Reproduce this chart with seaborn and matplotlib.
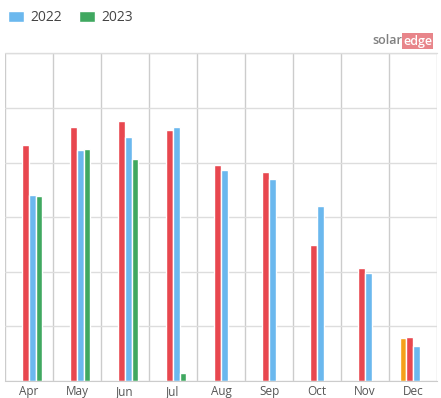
import numpy as np
import pandas as pd
import matplotlib
matplotlib.use("Agg")
import matplotlib.pyplot as plt
from matplotlib.patches import Patch
import seaborn as sns

# Monthly energy (kWh)
months = ["Apr", "May", "Jun", "Jul", "Aug", "Sep", "Oct", "Nov", "Dec"]
years = ["2020", "2021", "2022", "2023"]
kwh_2020 = [0, 0, 0, 0, 0, 0, 0, 0, 158]
kwh_2021 = [864, 930, 952, 920, 792, 766, 498, 414, 162]
kwh_2022 = [682, 846, 894, 930, 772, 740, 642, 396, 128]
kwh_2023 = [678, 850, 814, 30, 0, 0, 0, 0, 0]

colors = {"2020": "#f5a01a", "2021": "#e8474f", "2022": "#6bb8ee", "2023": "#40a860"}

rows = []
for yr, vals in zip(years, [kwh_2020, kwh_2021, kwh_2022, kwh_2023]):
    for m, v in zip(months, vals):
        rows.append({"month": m, "year": yr, "kwh": v})
df = pd.DataFrame(rows)

sns.set_style("white")
plt.rcParams["font.family"] = ["Open Sans", "DejaVu Sans"]

fig = plt.figure(figsize=(4.41, 3.98), dpi=100)
ax = fig.add_axes([5 / 441, 17 / 398, 432 / 441, 327.5 / 398])

sns.barplot(data=df, x="month", y="kwh", hue="year", order=months,
            hue_order=years, palette=colors, width=0.57, gap=0.08,
            saturation=1, legend=False, ax=ax)

ax.set_xlim(-0.5, len(months) - 0.5)
ax.set_ylim(0, 1200)
ax.set_yticks(np.arange(0, 1201, 200))
ax.set_yticklabels([])
ax.tick_params(axis="y", length=0)
ax.grid(axis="y", color="#dddddd", linewidth=1)
ax.axhline(1200, color="#dddddd", linewidth=1, clip_on=False, zorder=0)
ax.set_axisbelow(True)

# category separators, running slightly below the baseline
ax.set_xticks(np.arange(-0.5, len(months), 1), minor=True)
ax.tick_params(axis="x", which="minor", length=11, color="#cccccc", width=1)
ax.tick_params(axis="x", which="major", length=0, labelsize=8.5,
               labelcolor="#555555", pad=3)
ax.grid(axis="x", which="minor", color="#cccccc", linewidth=1)
ax.set_xlabel("")
ax.set_ylabel("")

for side in ["top", "left", "right"]:
    ax.spines[side].set_visible(False)
ax.spines["bottom"].set_color("#cccccc")

# legend (only the visible page)
handles = [Patch(facecolor=colors["2022"], label="2022"),
           Patch(facecolor=colors["2023"], label="2023")]
fig.legend(handles=handles, loc="upper left",
           bbox_to_anchor=(8 / 441, 1 - 10 / 398),
           ncol=2, frameon=False, fontsize=10, handlelength=1.15,
           handleheight=0.85, handletextpad=0.45, columnspacing=1.25,
           borderpad=0, borderaxespad=0, labelcolor="#444444")

# logo
fig.text(402 / 441, 1 - 41 / 398, "solar", ha="right", va="center",
         fontsize=9, color="#808080", fontweight="semibold")
fig.text(403 / 441, 1 - 41 / 398, "edge", ha="left", va="center",
         fontsize=9, color="#ffffff", fontweight="semibold",
         bbox=dict(boxstyle="square,pad=0.1", facecolor="#e8858a",
                   edgecolor="none"))

fig.savefig("out.png", dpi=100)
